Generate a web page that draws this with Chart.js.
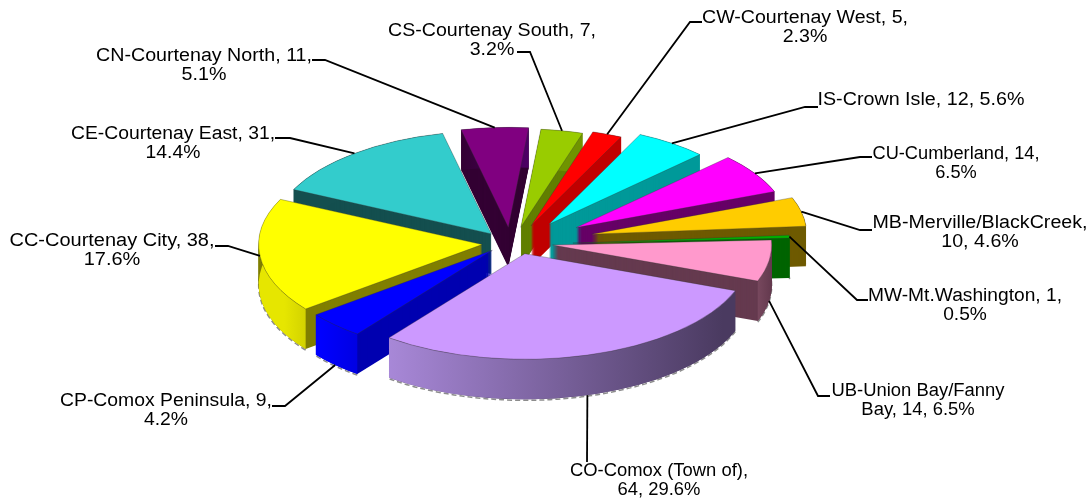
<!DOCTYPE html>
<html>
<head>
<meta charset="utf-8">
<title>Residents by area</title>
<script src="https://cdn.jsdelivr.net/npm/chart.js@4"></script>
<style>
  html, body { margin: 0; padding: 0; background: #fff; overflow: hidden; }
  canvas { display: block; }
</style>
</head>
<body>
<canvas id="pie" width="1089" height="498"></canvas>
<script>
// data, clockwise from the Comox slice
const categories = ["CO-Comox (Town of)", "CP-Comox Peninsula", "CC-Courtenay City", "CE-Courtenay East",
  "CN-Courtenay North", "CS-Courtenay South", "CW-Courtenay West", "IS-Crown Isle",
  "CU-Cumberland", "MB-Merville/BlackCreek", "MW-Mt.Washington", "UB-Union Bay/Fanny Bay"];
const values = [64, 9, 38, 31, 11, 7, 5, 12, 14, 10, 1, 14];
const labelLines = [
  ["CO-Comox (Town of),", "64, 29.6%"],
  ["CP-Comox Peninsula, 9,", "4.2%"],
  ["CC-Courtenay City, 38,", "17.6%"],
  ["CE-Courtenay East, 31,", "14.4%"],
  ["CN-Courtenay North, 11,", "5.1%"],
  ["CS-Courtenay South, 7,", "3.2%"],
  ["CW-Courtenay West, 5,", "2.3%"],
  ["IS-Crown Isle, 12, 5.6%"],
  ["CU-Cumberland, 14,", "6.5%"],
  ["MB-Merville/BlackCreek,", "10, 4.6%"],
  ["MW-Mt.Washington, 1,", "0.5%"],
  ["UB-Union Bay/Fanny", "Bay, 14, 6.5%"]
];

// colours
const topColors = ["#cc99ff", "#0000ff", "#ffff00", "#33cccc", "#800080", "#99cc00",
  "#ff0000", "#00ffff", "#ff00ff", "#ffcc00", "#00b000", "#ff99cc"];
const cutColors = ["#4f3d66", "#0000b0", "#807f00", "#144f4f", "#330033", "#617f00",
  "#c00000", "#009999", "#660066", "#6e5a00", "#006400", "#653a4f"];
const wallLeft = ["#a888d8", "#0000ff", "#e6e600", "#144f4f", "#330033", "#6f9400",
  "#c00000", "#009999", "#660066", "#6e5a00", "#006400", "#7a4a60"];
const wallRight = ["#4a3a60", "#0000e0", "#cfcf00", "#144f4f", "#4d0066", "#6f9400",
  "#c00000", "#009999", "#660066", "#6e5a00", "#006400", "#653a4f"];

// layout of the fake 3d
const pieX = 511, pieY = 245, pieRadius = 217, tilt = 0.47, depth = 40;
const explode = [28, 28, 31, 33, 42, 45, 55, 62, 80, 85, 62, 42];
const sizeScale = [1.036, 1.03, 1.03, 1.01, 0.98, 0.965, 0.965, 0.975, 0.98, 0.99, 1.0, 1.01];
const nudgeX = [6, 1, 2, 1, 0, 1, 0, 2, -2, -2, 0, 0];
const nudgeY = [-4, -4, -2, 1, 2, 3, 5, 3, 3, -2, 0, -3];

// label layout: centre x, first baseline, width of the first line, then the leader elbow and end
const labelPos = [
  [659, 476], [166, 406], [112, 246], [173, 139], [204, 61], [492, 36],
  [805, 23], [921, 105], [956, 159], [980, 228], [965, 301], [918, 396]
];
const labelWidth = [178, 212, 205, 204, 216, 208, 206, 207, 167, 215, 194, 173];
const leaders = [
  [[587, 462]],
  [[285, 406], [272, 406]],
  [[228, 246], [215, 246]],
  [[290, 138], [275, 138]],
  [[325, 60], [312, 60]],
  [[530, 52], [517, 52]],
  [[690, 22], [702, 22]],
  [[805, 107], [818, 107]],
  [[860, 157], [872, 157]],
  [[860, 230], [872, 230]],
  [[857, 300], [868, 300]],
  [[818, 396], [830, 396]]
];
const leaderDrop = [1, 1, 0, 0, 0, 0, 0, 0, 0, 0, 0, 1];
const leaderAt = [0.5, 0.5, 0.5, 0.5, 0.5, 0.5, 0.5, 0.5, 0.5, 0.5, 0.5, 0.5];

const midAngle = arc => (arc.startAngle + arc.endAngle) / 2;

function placeSlice(ctx, arc, i, drop) {
  const mid = midAngle(arc);
  ctx.setTransform(1, 0, 0, 1, 0, 0);
  ctx.translate(pieX + nudgeX[i], pieY + nudgeY[i] + drop);
  ctx.scale(1, tilt);
  ctx.translate(explode[i] * Math.cos(mid), explode[i] * Math.sin(mid));
  ctx.scale(sizeScale[i], sizeScale[i]);
  ctx.translate(-arc.x, -arc.y);
}

function drawSlice(chart, arc, i) {
  const ctx = chart.ctx;
  // rough grey fringe under the wall
  ctx.beginPath();
  placeSlice(ctx, arc, i, depth + 1);
  ctx.arc(arc.x, arc.y, arc.outerRadius, arc.startAngle, arc.endAngle);
  ctx.setTransform(1, 0, 0, 1, 0, 0);
  ctx.setLineDash([5, 3]);
  ctx.lineWidth = 1.5;
  ctx.strokeStyle = "#8c8c8c";
  ctx.stroke();
  ctx.setLineDash([]);
  // cut faces: stack of the sector in the dark colour
  ctx.fillStyle = cutColors[i];
  for (let k = depth; k > 0; k--) {
    placeSlice(ctx, arc, i, k);
    ctx.beginPath();
    ctx.moveTo(arc.x, arc.y);
    ctx.arc(arc.x, arc.y, arc.outerRadius, arc.startAngle, arc.endAngle);
    ctx.closePath();
    ctx.fill();
  }
  // outer wall
  ctx.beginPath();
  placeSlice(ctx, arc, i, 0);
  ctx.arc(arc.x, arc.y, arc.outerRadius, arc.startAngle, arc.endAngle);
  placeSlice(ctx, arc, i, depth);
  ctx.arc(arc.x, arc.y, arc.outerRadius, arc.endAngle, arc.startAngle, true);
  ctx.closePath();
  ctx.setTransform(1, 0, 0, 1, 0, 0);
  const xs = [arc.startAngle, arc.endAngle].map(a => pieX + explode[i] * Math.cos(midAngle(arc)) + arc.outerRadius * Math.cos(a));
  const grad = ctx.createLinearGradient(Math.min(...xs), 0, Math.max(...xs) + 1, 0);
  grad.addColorStop(0, wallLeft[i]);
  grad.addColorStop(1, wallRight[i]);
  ctx.fillStyle = grad;
  ctx.fill();
  // top face, the library's own arc
  placeSlice(ctx, arc, i, 0);
  arc.draw(ctx);
  ctx.setTransform(1, 0, 0, 1, 0, 0);
}

function anchorOf(arc, i) {
  const mid = midAngle(arc);
  const a = arc.startAngle + leaderAt[i] * (arc.endAngle - arc.startAngle);
  const r = arc.outerRadius * sizeScale[i];
  return [pieX + nudgeX[i] + explode[i] * Math.cos(mid) + r * Math.cos(a),
    pieY + nudgeY[i] + tilt * (explode[i] * Math.sin(mid) + r * Math.sin(a)) + leaderDrop[i] * depth];
}

const fakePie3d = {
  id: "fakePie3d",
  beforeDatasetsDraw(chart) {
    const arcs = chart.getDatasetMeta(0).data;
    const order = arcs.map((_, i) => i).sort((a, b) => Math.sin(midAngle(arcs[a])) - Math.sin(midAngle(arcs[b])));
    const ctx = chart.ctx;
    ctx.save();
    order.forEach(i => drawSlice(chart, arcs[i], i));
    ctx.restore();
    return false;
  },
  afterDraw(chart) {
    const arcs = chart.getDatasetMeta(0).data;
    const ctx = chart.ctx;
    ctx.save();
    ctx.strokeStyle = "#000";
    ctx.lineWidth = 1.8;
    arcs.forEach((arc, i) => {
      ctx.beginPath();
      ctx.moveTo(...anchorOf(arc, i));
      leaders[i].forEach(p => ctx.lineTo(p[0], p[1]));
      ctx.stroke();
    });
    ctx.fillStyle = "#000";
    ctx.font = "18px 'Liberation Sans', Arial, sans-serif";
    ctx.textAlign = "center";
    ctx.textBaseline = "alphabetic";
    labelLines.forEach((lines, i) => {
      // the original text is stretched, each label a bit differently
      const stretch = labelWidth[i] / ctx.measureText(lines[0]).width;
      lines.forEach((line, j) => {
        ctx.setTransform(stretch, 0, 0, 1, labelPos[i][0], labelPos[i][1] + j * 19);
        ctx.fillText(line, 0, 0);
      });
    });
    ctx.restore();
  }
};

new Chart(document.getElementById("pie"), {
  type: "pie",
  data: {
    labels: categories,
    datasets: [{
      data: values,
      backgroundColor: topColors,
      borderColor: "rgba(50,50,50,0.55)",
      borderWidth: 0.8
    }]
  },
  options: {
    responsive: false,
    animation: false,
    rotation: 110.5,
    radius: pieRadius,
    plugins: { legend: { display: false }, tooltip: { enabled: false } }
  },
  plugins: [fakePie3d]
});
</script>
</body>
</html>
